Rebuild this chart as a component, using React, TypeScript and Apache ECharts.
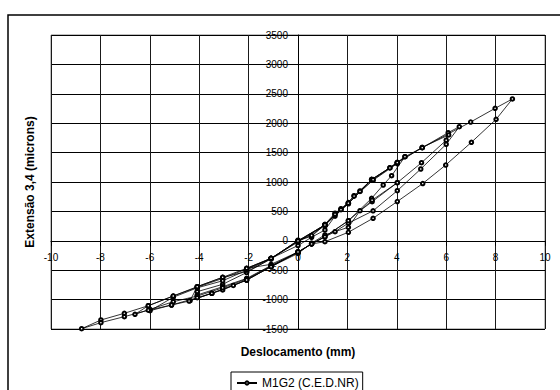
import React, { useEffect, useRef } from "react";
import * as echarts from "echarts";

// Tick values
const xTicks = [-10, -8, -6, -4, -2, 0, 2, 4, 6, 8, 10];
const yTicks = [-1500, -1000, -500, 0, 500, 1000, 1500, 2000, 2500, 3000, 3500];

const seriesName = "M1G2 (C.E.D.NR)";
const xTitle = "Deslocamento (mm)";
const yTitle = "Extensão 3,4 (microns)";

// Displacement (mm), strain (microns), per loading cycle
const cycle1: [number, number][] = [
  [0, 0], [0.55, 80], [1.09, 269], [1.5, 456], [1.74, 535], [2.04, 638],
  [1.5, 420], [1.09, 184], [0.55, 60], [0, -80], [-1.09, -298], [-2.08, -468],
  [-1.09, -400], [0, -190],
];
const cycle2: [number, number][] = [
  [0.55, -54], [1.09, 70], [2.04, 342], [2.98, 722], [3.45, 949], [3.79, 1107],
  [4.33, 1430], [4.02, 1335], [3.72, 1243], [2.98, 1045], [2.51, 847], [2.27, 767],
  [2.04, 650], [1.74, 545], [1.5, 470], [1.09, 280], [0.55, 90], [0, 10],
  [-1.09, -310], [-2.08, -525], [-3.05, -621], [-4.08, -780], [-4.37, -1019],
  [-3.49, -893], [-3.05, -836], [-2.08, -667], [-1.09, -440], [0, -215],
];
const cycle3: [number, number][] = [
  [0.55, -40], [1.09, 100], [2.04, 230], [2.51, 512], [3.0, 665], [4.02, 988],
  [4.02, 1314], [3.04, 1030], [2.51, 840], [2.04, 630], [1.5, 450], [1.09, 260],
  [0, -20], [-1.09, -300], [-2.08, -540], [-3.05, -740], [-4.08, -865],
  [-4.08, -922], [-3.05, -781], [-2.08, -640], [-1.09, -420], [0, -200],
];
const cycle4: [number, number][] = [
  [0.55, -50], [1.5, 155], [2.04, 300], [3.04, 510], [4.02, 852], [4.97, 1221],
  [6.0, 1642], [6.53, 1940], [6.08, 1839], [5.03, 1583], [4.33, 1430], [4.02, 1320],
  [2.98, 1040], [2.27, 760], [1.74, 530], [1.09, 270], [0, -10], [-1.09, -300],
  [-2.08, -480], [-3.05, -640], [-4.08, -790], [-5.05, -939], [-6.06, -1104],
  [-6.6, -1250], [-5.99, -1165], [-5.05, -1036], [-4.08, -940], [-3.05, -800],
  [-2.08, -650], [-1.09, -430], [0, -190],
];
const cycle5: [number, number][] = [
  [0.55, -54], [1.09, 70], [2.04, 342], [3.0, 690], [4.02, 988], [5.0, 1328],
  [6.0, 1710], [6.1, 1800], [5.03, 1590], [4.02, 1330], [3.72, 1240], [2.98, 1040],
  [2.04, 640], [1.09, 270], [0, 0], [-1.09, -298], [-2.08, -500], [-3.05, -680],
  [-4.08, -800], [-5.05, -960], [-5.99, -1189], [-5.12, -1092], [-4.08, -968],
  [-3.49, -893], [-2.08, -667], [-1.09, -440], [0, -190],
];
const cycle6: [number, number][] = [
  [0.55, -54], [1.09, -15], [2.04, 145], [3.04, 383], [4.02, 668], [5.05, 974],
  [5.98, 1289], [7.02, 1675], [8.02, 2066], [8.68, 2412], [7.98, 2253], [6.99, 2020],
  [5.03, 1583], [4.02, 1330], [3.04, 1040], [2.04, 640], [1.09, 270], [0, 0],
  [-1.09, -298], [-2.08, -468], [-3.05, -621], [-4.08, -780], [-5.05, -939],
  [-6.06, -1104], [-7.03, -1233], [-7.98, -1347], [-8.76, -1495], [-7.98, -1392],
  [-7.03, -1290], [-6.06, -1180], [-5.12, -1092], [-4.41, -1025], [-3.49, -893],
  [-2.62, -760], [-2.08, -667], [-1.09, -440], [0, -190],
];

const FONT = "'Liberation Sans', Arial, sans-serif";

const GRID_LEFT = 51;
const GRID_TOP = 35;
const GRID_W = 494;
const GRID_H = 294;

export default function App() {
  const ref = useRef<HTMLDivElement>(null);
  useEffect(() => {
    if (!ref.current) return;
    const chart = echarts.init(ref.current, undefined, { renderer: "svg" });
    const data = [...cycle1, ...cycle2, ...cycle3, ...cycle4, ...cycle5, ...cycle6];
    const xMin = xTicks[0];
    const xMax = xTicks[xTicks.length - 1];
    const yMin = yTicks[0];
    const yMax = yTicks[yTicks.length - 1];
    // shift the axes so they cross at the origin
    const xAxisOffset = -(GRID_H * (0 - yMin)) / (yMax - yMin);
    const yAxisOffset = -(GRID_W * (0 - xMin)) / (xMax - xMin);
    const fmt = (v: number) => String(v);
    chart.setOption({
      animation: false,
      backgroundColor: "#fff",
      textStyle: { fontFamily: FONT },
      grid: {
        left: GRID_LEFT, top: GRID_TOP, width: GRID_W, height: GRID_H,
        show: true, borderColor: "#808080", borderWidth: 1, backgroundColor: "transparent",
      },
      xAxis: {
        type: "value",
        position: "bottom",
        offset: xAxisOffset,
        min: xMin, max: xMax, interval: 2,
        axisLine: { onZero: false, lineStyle: { color: "#000", width: 1 } },
        axisTick: { show: true, length: 5, lineStyle: { color: "#000" } },
        axisLabel: { color: "#000", fontSize: 10, margin: 12, fontFamily: FONT, showMinLabel: true, showMaxLabel: true, formatter: fmt },
        splitLine: { show: true, lineStyle: { color: "#1a1a1a", width: 1 } },
      },
      yAxis: {
        type: "value",
        position: "left",
        offset: yAxisOffset,
        min: yMin, max: yMax, interval: 500,
        axisLine: { onZero: false, lineStyle: { color: "#000", width: 1 } },
        axisTick: { show: true, length: 5, lineStyle: { color: "#000" } },
        axisLabel: { color: "#000", fontSize: 10, margin: 10, fontFamily: FONT, showMinLabel: true, showMaxLabel: true, formatter: fmt },
        splitLine: { show: true, lineStyle: { color: "#000", width: 1 } },
      },
      legend: {
        show: true,
        left: 231, top: 372,
        padding: [5, 4, 6, 5],
        borderColor: "#000", borderWidth: 1,
        itemWidth: 20, itemHeight: 4, itemGap: 4,
        textStyle: { color: "#000", fontSize: 12, fontFamily: FONT },
        data: [seriesName],
      },
      graphic: [
        {
          type: "rect", silent: true, z: -1,
          shape: { x: 8, y: 15, width: 560, height: 390 },
          style: { fill: "none", stroke: "#000", lineWidth: 1.5 },
        },
        {
          type: "text", x: 298, y: 352,
          style: { text: xTitle, fill: "#000", font: `bold 12px ${FONT}`, align: "center", verticalAlign: "middle" },
        },
        {
          type: "text", x: 30, y: 182, rotation: Math.PI / 2,
          style: { text: yTitle, fill: "#000", font: `bold 12px ${FONT}`, align: "center", verticalAlign: "middle" },
        },
      ],
      series: [
        {
          name: seriesName,
          type: "line",
          data,
          symbol: "emptyCircle",
          symbolSize: 3.5,
          showAllSymbol: true,
          lineStyle: { color: "#000", width: 0.8 },
          itemStyle: { color: "#000", borderColor: "#000", borderWidth: 0.8 },
          z: 5,
        },
      ],
    });
    return () => chart.dispose();
  }, []);
  return (
    <div
      ref={ref}
      style={{ position: "fixed", left: 0, top: 0, width: 560, height: 390, background: "#fff" }}
    />
  );
}
